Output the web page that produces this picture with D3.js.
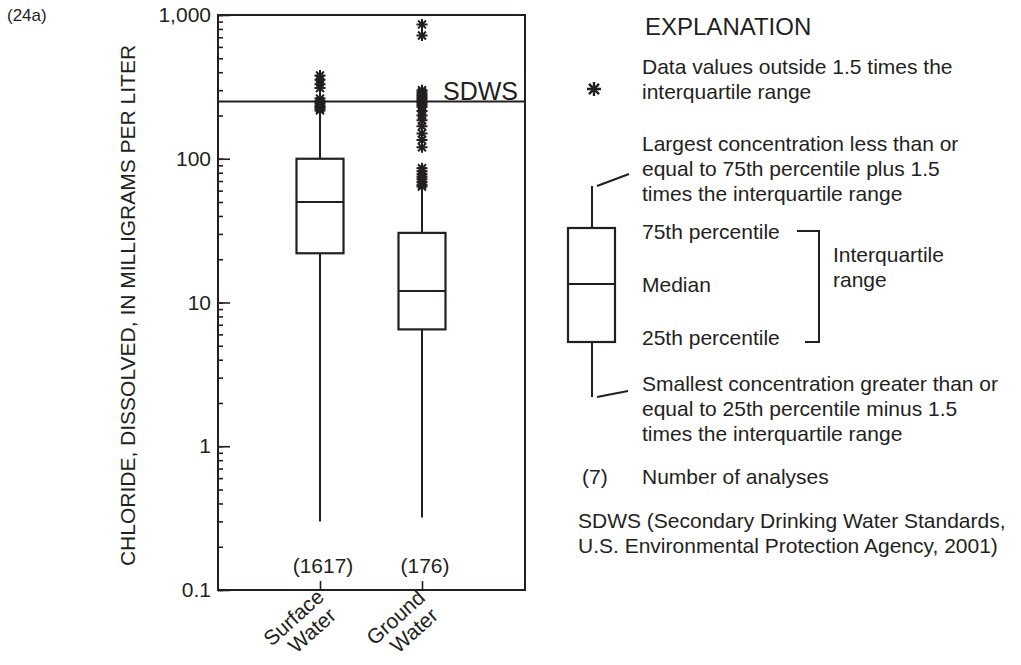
<!DOCTYPE html>
<html>
<head>
<meta charset="utf-8">
<script src="https://cdn.jsdelivr.net/npm/d3@7"></script>
<style>
  body { margin: 0; background: #fff; }
  text { font-family: "Liberation Sans", Arial, Helvetica, sans-serif; fill: #231f20; }
</style>
</head>
<body>
<div id="chart"></div>
<script>
// values (chloride, mg/L)
const categories = ["Surface Water", "Ground Water"];
const labelLines = [["Surface", "Water"], ["Ground", "Water"]];
const analyses = [1617, 176];
const whiskerLow = [0.3, 0.32];
const q1 = [22, 6.5];
const median = [50, 12];
const q3 = [100, 30.5];
const whiskerHigh = [212, 60];
const outliersSurface = [380, 355, 330, 310, 262, 252, 244, 236, 229, 223, 217];
const outliersGround = [860, 720, 300, 290, 281, 273, 265, 258, 251, 244, 237, 230, 215, 200, 185, 168, 150, 135, 120,
                        86, 82, 78, 75, 72, 69, 66, 64];
const yTickValues = [0.1, 1, 10, 100, 1000];
const yTickLabels = ["0.1", "1", "10", "100", "1,000"];
const sdws = 250;

const ink = "#231f20";

const margin = {top: 15, right: 496, bottom: 75, left: 218},
      width = 1021 - margin.left - margin.right,
      height = 665 - margin.top - margin.bottom;

const root = d3.select("#chart").append("svg")
    .attr("width", 1021)
    .attr("height", 665);

let svg = root.append("g")
    .attr("transform", "translate(" + margin.left + "," + margin.top + ")");

// scales
let x = d3.scalePoint()
    .domain(categories)
    .range([0, 306])
    .padding(1);

let y = d3.scaleLog()
    .domain([0.1, 1000])
    .range([height, 0]);

// minor ticks (inside)
svg.append("g")
    .call(d3.axisLeft(y).tickValues(y.ticks()).tickSize(-5).tickFormat(""))
    .call(g => g.select(".domain").remove())
    .selectAll("line").attr("stroke", ink).attr("stroke-width", 1.6);

// major ticks with labels
svg.append("g")
    .call(d3.axisLeft(y).tickValues(yTickValues).tickSize(-12).tickPadding(7)
      .tickFormat((d, i) => yTickLabels[i]))
    .call(g => g.select(".domain").remove())
    .call(g => g.selectAll("line").attr("stroke", ink).attr("stroke-width", 1.6))
    .call(g => g.selectAll("text").attr("font-size", 21).attr("fill", ink)
      .style("font-family", "'Liberation Sans', Arial, sans-serif"));

// bottom ticks (inside)
svg.append("g")
    .attr("transform", "translate(0," + height + ")")
    .call(d3.axisBottom(x).tickSize(-9).tickFormat(""))
    .call(g => g.select(".domain").remove())
    .selectAll("line").attr("stroke", ink).attr("stroke-width", 1.6);

// frame
svg.append("rect")
    .attr("x", 0).attr("y", 0)
    .attr("width", width).attr("height", height)
    .attr("fill", "none")
    .attr("stroke", ink)
    .attr("stroke-width", 2);

// SDWS line
svg.append("line")
    .attr("x1", 0).attr("x2", width)
    .attr("y1", y(sdws)).attr("y2", y(sdws))
    .attr("stroke", ink).attr("stroke-width", 2);
svg.append("text")
    .attr("x", width - 7).attr("y", y(sdws) - 2)
    .attr("text-anchor", "end")
    .attr("font-size", 25)
    .text("SDWS");

// boxes
const boxW = 47;
let boxes = svg.selectAll(".box")
    .data(categories)
    .enter().append("g")
    .attr("class", "box")
    .attr("transform", d => "translate(" + x(d) + ",0)");

boxes.append("line")
    .attr("y1", (d, i) => y(whiskerLow[i]))
    .attr("y2", (d, i) => y(q1[i]))
    .attr("stroke", ink).attr("stroke-width", 2);
boxes.append("line")
    .attr("y1", (d, i) => y(q3[i]))
    .attr("y2", (d, i) => y(whiskerHigh[i]))
    .attr("stroke", ink).attr("stroke-width", 2);
boxes.append("rect")
    .attr("x", -boxW / 2)
    .attr("width", boxW)
    .attr("y", (d, i) => y(q3[i]))
    .attr("height", (d, i) => y(q1[i]) - y(q3[i]))
    .attr("fill", "none")
    .attr("stroke", ink).attr("stroke-width", 2.2);
boxes.append("line")
    .attr("x1", -boxW / 2).attr("x2", boxW / 2)
    .attr("y1", (d, i) => y(median[i]))
    .attr("y2", (d, i) => y(median[i]))
    .attr("stroke", ink).attr("stroke-width", 2);

// asterisk marker
function star(r) {
  const d = r * 0.72;
  return "M" + (-r) + ",0H" + r +
         "M0," + (-r) + "V" + r +
         "M" + (-d) + "," + (-d) + "L" + d + "," + d +
         "M" + (-d) + "," + d + "L" + d + "," + (-d);
}

const outliers = [outliersSurface, outliersGround];
boxes.selectAll(".out")
    .data((d, i) => outliers[i])
    .enter().append("path")
    .attr("class", "out")
    .attr("d", star(5.5))
    .attr("transform", d => "translate(0," + y(d) + ")")
    .attr("stroke", ink)
    .attr("stroke-width", 2)
    .attr("fill", "none");

// number of analyses
boxes.append("text")
    .attr("x", 3)
    .attr("y", height - 17)
    .attr("text-anchor", "middle")
    .attr("font-size", 21)
    .text((d, i) => "(" + analyses[i] + ")");

// category labels
let lab = boxes.append("text")
    .attr("transform", "translate(0," + height + ") rotate(-42)")
    .attr("text-anchor", "middle")
    .attr("font-size", 21);
lab.append("tspan").attr("x", -38).attr("y", 10).text((d, i) => labelLines[i][0]);
lab.append("tspan").attr("x", -33).attr("y", 32).text((d, i) => labelLines[i][1]);

// y title
root.append("text")
    .attr("transform", "translate(135," + (margin.top + height / 2 + 3) + ") rotate(-90)")
    .attr("text-anchor", "middle")
    .attr("font-size", 21)
    .text("CHLORIDE, DISSOLVED, IN MILLIGRAMS PER LITER");

// figure number
root.append("text")
    .attr("x", 7).attr("y", 21)
    .attr("font-size", 17)
    .text("(24a)");

// explanation
let leg = root.append("g");
const tx = 642;

leg.append("text").attr("x", 645).attr("y", 35).attr("font-size", 24).text("EXPLANATION");

function lines(arr, x0, y0, step) {
  arr.forEach((t, i) => {
    leg.append("text").attr("x", x0).attr("y", y0 + i * step).attr("font-size", 21).text(t);
  });
}

leg.append("path")
    .attr("d", star(7))
    .attr("transform", "translate(594,89)")
    .attr("stroke", ink).attr("stroke-width", 2.4).attr("fill", "none");
lines(["Data values outside 1.5 times the", "interquartile range"], tx, 74, 25);

lines(["Largest concentration less than or", "equal to 75th percentile plus 1.5",
       "times the interquartile range"], tx, 151, 25);

// sample box
leg.append("line").attr("x1", 592).attr("x2", 592).attr("y1", 186).attr("y2", 228)
    .attr("stroke", ink).attr("stroke-width", 2);
leg.append("line").attr("x1", 597).attr("x2", 629).attr("y1", 186).attr("y2", 174)
    .attr("stroke", ink).attr("stroke-width", 2);
leg.append("rect").attr("x", 568).attr("y", 228).attr("width", 47).attr("height", 114)
    .attr("fill", "none").attr("stroke", ink).attr("stroke-width", 2.2);
leg.append("line").attr("x1", 568).attr("x2", 615).attr("y1", 284).attr("y2", 284)
    .attr("stroke", ink).attr("stroke-width", 2);
leg.append("line").attr("x1", 592).attr("x2", 592).attr("y1", 342).attr("y2", 397)
    .attr("stroke", ink).attr("stroke-width", 2);
leg.append("line").attr("x1", 597).attr("x2", 628).attr("y1", 397).attr("y2", 391)
    .attr("stroke", ink).attr("stroke-width", 2);

lines(["75th percentile"], tx, 239, 25);
lines(["Median"], tx, 292, 25);
lines(["25th percentile"], tx, 345, 25);

// bracket
leg.append("path")
    .attr("d", "M797,231H819V342H805")
    .attr("fill", "none").attr("stroke", ink).attr("stroke-width", 2);
lines(["Interquartile", "range"], 833, 262, 25);

lines(["Smallest concentration greater than or", "equal to 25th percentile minus 1.5",
       "times the interquartile range"], tx, 391, 25);

lines(["(7)"], 582, 484, 25);
lines(["Number of analyses"], tx, 484, 25);

lines(["SDWS (Secondary Drinking Water Standards,",
       "U.S. Environmental Protection Agency, 2001)"], 578, 528, 25);
</script>
</body>
</html>
